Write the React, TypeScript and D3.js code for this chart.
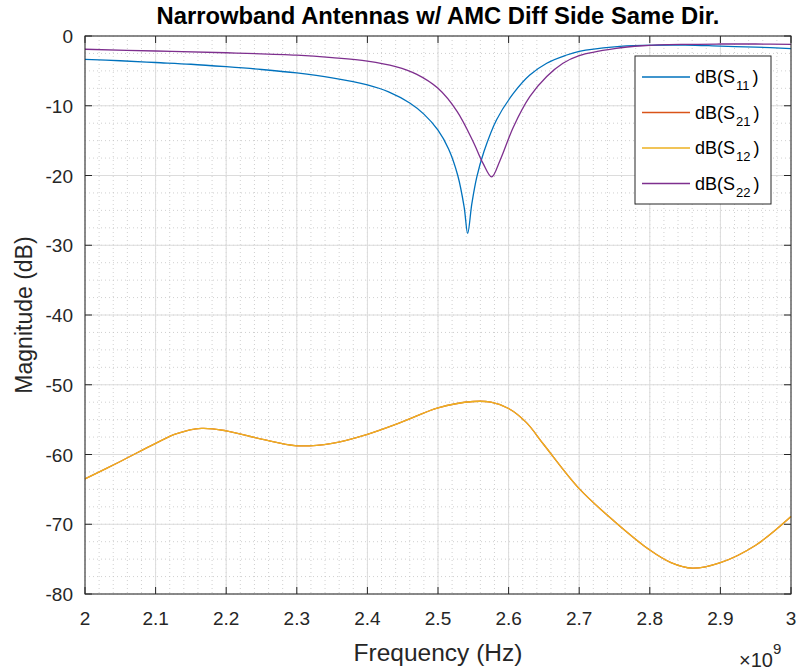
import React from "react";
import * as d3 from "d3";

const titleText = "Narrowband Antennas w/ AMC Diff Side Same Dir.";
const xLabel = "Frequency (Hz)";
const yLabel = "Magnitude (dB)";
const xTicks = [2, 2.1, 2.2, 2.3, 2.4, 2.5, 2.6, 2.7, 2.8, 2.9, 3];
const yTicks = [0, -10, -20, -30, -40, -50, -60, -70, -80];

// frequency in GHz (axis shown x10^9), magnitude in dB
const s11F = [2.0, 2.05, 2.1, 2.15, 2.2, 2.25, 2.3, 2.35, 2.4, 2.43, 2.46, 2.48, 2.5, 2.515, 2.528, 2.537, 2.542, 2.548, 2.555, 2.565, 2.583, 2.607, 2.63, 2.654, 2.68, 2.7, 2.75, 2.79, 2.85, 2.9, 2.95, 3.0];
const s11V = [-3.35, -3.55, -3.8, -4.05, -4.4, -4.8, -5.3, -6.0, -7.0, -8.0, -9.6, -11.2, -13.5, -16.2, -20.0, -24.5, -28.3, -24.0, -20.2, -16.6, -12.0, -8.2, -5.6, -3.9, -2.8, -2.2, -1.55, -1.35, -1.3, -1.45, -1.6, -1.8];

const s22F = [2.0, 2.1, 2.2, 2.3, 2.35, 2.4, 2.44, 2.47, 2.5, 2.527, 2.55, 2.564, 2.576, 2.588, 2.607, 2.63, 2.654, 2.677, 2.7, 2.75, 2.79, 2.85, 2.9, 2.95, 3.0];
const s22V = [-1.9, -2.15, -2.4, -2.75, -3.1, -3.6, -4.4, -5.5, -7.5, -10.8, -15.2, -18.3, -20.2, -17.8, -13.0, -8.7, -5.8, -3.9, -2.8, -1.8, -1.4, -1.2, -1.15, -1.15, -1.2];

const s21F = [2.0, 2.05, 2.1, 2.13, 2.165, 2.2, 2.25, 2.3, 2.35, 2.4, 2.45, 2.5, 2.55, 2.575, 2.6, 2.625, 2.65, 2.7, 2.75, 2.8, 2.83, 2.86, 2.9, 2.95, 3.0];
const s21V = [-63.5, -61.0, -58.4, -57.0, -56.25, -56.6, -57.8, -58.75, -58.4, -57.1, -55.3, -53.3, -52.4, -52.5, -53.4, -55.4, -58.6, -64.9, -69.6, -73.7, -75.5, -76.3, -75.5, -73.0, -68.9];

const s12F = [2.0, 2.05, 2.1, 2.13, 2.165, 2.2, 2.25, 2.3, 2.35, 2.4, 2.45, 2.5, 2.55, 2.575, 2.6, 2.625, 2.65, 2.7, 2.75, 2.8, 2.83, 2.86, 2.9, 2.95, 3.0];
const s12V = [-63.5, -61.0, -58.4, -57.0, -56.25, -56.6, -57.8, -58.75, -58.4, -57.1, -55.3, -53.3, -52.4, -52.5, -53.4, -55.4, -58.6, -64.9, -69.6, -73.7, -75.5, -76.3, -75.5, -73.0, -68.9];

const seriesNames = ["11", "21", "12", "22"];
const seriesColors = ["#0072BD", "#D95319", "#EDB120", "#7E2F8E"];

const W = 796, H = 670;
const L = 85, R = 791, T = 36, B = 594;
const FONT = "'Liberation Sans', Arial, Helvetica, sans-serif";

export default function App() {
  const x = d3.scaleLinear().domain([2, 3]).range([L, R]);
  const y = d3.scaleLinear().domain([-80, 0]).range([B, T]);
  const line = d3
    .line<[number, number]>()
    .x((d) => x(d[0]))
    .y((d) => y(d[1]))
    .curve(d3.curveCatmullRom.alpha(0.5));

  const series = [
    { f: s11F, v: s11V },
    { f: s21F, v: s21V },
    { f: s12F, v: s12V },
    { f: s22F, v: s22V },
  ];

  const xMinor = d3.range(2, 3.0001, 0.02);
  const yMinor = d3.range(-80, 0.0001, 2.5);
  const tickLen = 7;

  return (
    <svg
      width={W}
      height={H}
      style={{ position: "absolute", left: 0, top: 0, background: "#fff" }}
      fontFamily={FONT}
    >
      <rect x={0} y={0} width={W} height={H} fill="#fff" />
      {/* minor grid */}
      <g stroke="#c4c4c4" strokeWidth={0.8} strokeDasharray="1,3">
        {xMinor.map((v, i) => (
          <line key={"xm" + i} x1={x(v)} x2={x(v)} y1={T} y2={B} />
        ))}
        {yMinor.map((v, i) => (
          <line key={"ym" + i} x1={L} x2={R} y1={y(v)} y2={y(v)} />
        ))}
      </g>
      {/* major grid */}
      <g stroke="#dcdcdc" strokeWidth={1}>
        {xTicks.map((v, i) => (
          <line key={"xg" + i} x1={x(v)} x2={x(v)} y1={T} y2={B} />
        ))}
        {yTicks.map((v, i) => (
          <line key={"yg" + i} x1={L} x2={R} y1={y(v)} y2={y(v)} />
        ))}
      </g>
      {/* series */}
      <g fill="none" strokeWidth={1.3}>
        {series.map((s, i) => (
          <path
            key={i}
            d={line(s.f.map((f, j) => [f, s.v[j]] as [number, number])) || ""}
            stroke={seriesColors[i]}
          />
        ))}
      </g>
      {/* axes box and ticks */}
      <g stroke="#262626" strokeWidth={1}>
        <rect x={L} y={T} width={R - L} height={B - T} fill="none" />
        {xTicks.map((v, i) => (
          <g key={"xt" + i}>
            <line x1={x(v)} x2={x(v)} y1={B} y2={B - tickLen} />
            <line x1={x(v)} x2={x(v)} y1={T} y2={T + tickLen} />
          </g>
        ))}
        {yTicks.map((v, i) => (
          <g key={"yt" + i}>
            <line x1={L} x2={L + tickLen} y1={y(v)} y2={y(v)} />
            <line x1={R} x2={R - tickLen} y1={y(v)} y2={y(v)} />
          </g>
        ))}
      </g>
      {/* tick labels */}
      <g fill="#262626" fontSize={19}>
        {xTicks.map((v, i) => (
          <text key={"xl" + i} x={x(v)} y={B + 31} textAnchor="middle">
            {d3.format("~g")(v)}
          </text>
        ))}
        {yTicks.map((v, i) => (
          <text key={"yl" + i} x={L - 12} y={y(v) + 7} textAnchor="end">
            {v}
          </text>
        ))}
      </g>
      {/* exponent */}
      <text x={739} y={667} fill="#262626" fontSize={20}>
        ×10
        <tspan dy={-13} fontSize={15}>9</tspan>
      </text>
      {/* axis labels */}
      <text x={(L + R) / 2} y={661} textAnchor="middle" fill="#262626" fontSize={24.5}>
        {xLabel}
      </text>
      <text
        transform={`translate(32,${(T + B) / 2}) rotate(-90)`}
        textAnchor="middle"
        fill="#262626"
        fontSize={23}
      >
        {yLabel}
      </text>
      {/* title */}
      <text x={(L + R) / 2} y={24} textAnchor="middle" fill="#000" fontSize={23.8} fontWeight="bold">
        {titleText}
      </text>
      {/* legend */}
      <g>
        <rect x={635} y={56} width={136} height={148} fill="#fff" stroke="#262626" strokeWidth={1} />
        {seriesNames.map((n, i) => {
          const cy = 77 + i * 35.5;
          return (
            <g key={"lg" + i}>
              <line x1={642} x2={690} y1={cy} y2={cy} stroke={seriesColors[i]} strokeWidth={1.3} />
              <text x={695} y={cy + 6} fontSize={18} fill="#000">
                dB(S
                <tspan dx={1} dy={7} fontSize={13}>{n}</tspan>
                <tspan dx={3} dy={-7} fontSize={18}>)</tspan>
              </text>
            </g>
          );
        })}
      </g>
    </svg>
  );
}
